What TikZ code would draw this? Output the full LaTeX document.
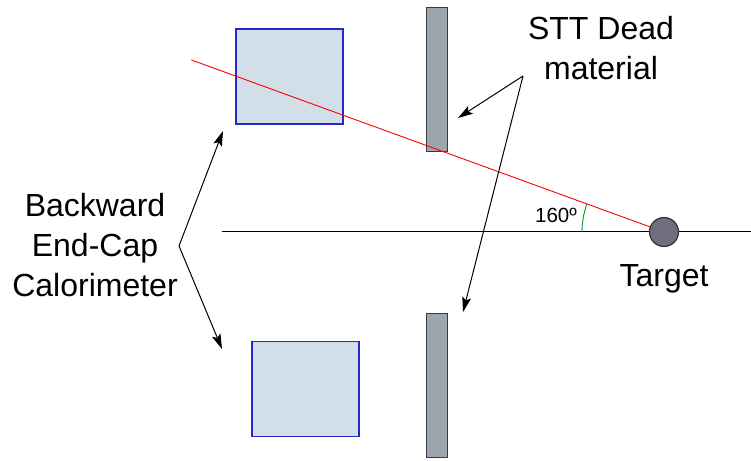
\documentclass[tikz,border=0pt]{standalone}
\usepackage{fontspec}
\setmainfont{Liberation Sans}
\usepackage{tikz}
\usepackage{xcolor}
\usetikzlibrary{arrows.meta, positioning, calc}
\definecolor{cCalFill}{RGB}{210,222,232}
\definecolor{cCalLine}{RGB}{40,40,200}
\definecolor{cSttFill}{RGB}{158,165,172}
\definecolor{cSttLine}{RGB}{55,58,75}
\definecolor{cTarget}{RGB}{110,110,125}
\definecolor{cArc}{RGB}{0,150,40}
\tikzset{
	calbox/.style={rectangle, draw=cCalLine, fill=cCalFill, line width=1.1pt, inner sep=0pt, outer sep=0pt, minimum width=107pt, minimum height=95pt},
	sttbar/.style={rectangle, draw=cSttLine, fill=cSttFill, line width=1pt, inner sep=0pt, outer sep=0pt, minimum width=21pt, minimum height=144pt},
	target/.style={circle, draw=black!80, fill=cTarget, line width=1.2pt, inner sep=0pt, minimum size=29pt},
	lbl/.style={align=center, font=\fontsize{32}{40}\selectfont, inner sep=0pt},
	ptrarrow/.style={-{Stealth[length=15pt, width=9pt, inset=3pt]}, line width=1pt},
}
\begin{document}
\begin{tikzpicture}[x=1pt, y=1pt]
	\useasboundingbox (0,0) rectangle (751,460);
	% beam axis
	\coordinate (axl) at (222,228);
	\coordinate (axr) at (751,228);
	\draw[line width=1pt] (axl) -- (axr);
	% detector pieces
	\node[calbox] (topcal) at (289.5,383.5) {};
	\node[calbox] (botcal) at (305.5,71) {};
	\node[sttbar] (topstt) at (437,380) {};
	\node[sttbar] (botstt) at (436.5,74.5) {};
	\node[target] (tgt) at (664,228) {};
	% track at 160 degrees
	\coordinate (trk) at ($(tgt.center)+(160:503)$);
	\draw[red, line width=0.9pt] (tgt.160) -- (trk);
	\draw[cArc, line width=0.9pt] ($(tgt.center)+(180:82)$) arc[start angle=180, end angle=160, radius=82];
	\node[font=\fontsize{20.5}{24}\selectfont, inner sep=0pt] (ang) at (556,245) {160º};
	% labels
	\node[lbl, below=17pt of tgt] (tgtlbl) {Target};
	\node[lbl] (sttlbl) at (601,412) {STT Dead\\material};
	\node[lbl] (callbl) at (95,215) {Backward\\End-Cap\\Calorimeter};
	% pointers
	\coordinate (sttapex) at (523,384);
	\coordinate (sttup) at (458,342);
	\coordinate (sttdn) at (463,148);
	\coordinate (calapex) at (179,214);
	\coordinate (calup) at (223,329);
	\coordinate (caldn) at (222,111);
	\draw[ptrarrow] (sttapex) -- (sttup);
	\draw[ptrarrow] (sttapex) -- (sttdn);
	\draw[ptrarrow] (calapex) -- (calup);
	\draw[ptrarrow] (calapex) -- (caldn);
\end{tikzpicture}
\end{document}
